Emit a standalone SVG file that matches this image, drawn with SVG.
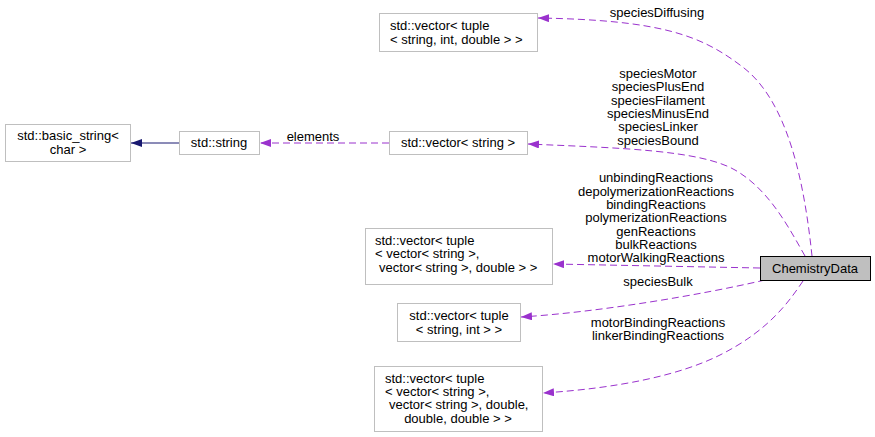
<svg xmlns="http://www.w3.org/2000/svg" width="875" height="437" viewBox="0 0 875 437">
<style>
text{font-family:"Liberation Sans",Arial,sans-serif;font-size:13px;fill:#000}
.box{fill:#fff;stroke:#bfbfbf;stroke-width:1}
.main{fill:#bfbfbf;stroke:#000;stroke-width:1}
.e{fill:none;stroke:#9a32cd;stroke-width:1;stroke-dasharray:7,4}
.s{fill:none;stroke:#191970;stroke-width:1}
.c{text-anchor:middle}
</style>
<defs>
<marker id="ap" viewBox="0 0 11 8" refX="11" refY="4" markerWidth="11" markerHeight="8" markerUnits="userSpaceOnUse" orient="auto">
<path d="M0,0 L11,4 L0,8 z" fill="#9a32cd"/>
</marker>
<marker id="an" viewBox="0 0 11 8" refX="11" refY="4" markerWidth="11" markerHeight="8" markerUnits="userSpaceOnUse" orient="auto">
<path d="M0,0 L11,4 L0,8 z" fill="#191970"/>
</marker>
</defs>
<g id="edges">
<path class="e" d="M812,256 C805,190 790,100 740,65 C700,35 660,20 538,18" marker-end="url(#ap)"/>
<path class="e" d="M805,256 C790,230 770,190 735,170 C700,150 620,148 528,144" marker-end="url(#ap)"/>
<path class="e" d="M389,143 L260,143" marker-end="url(#ap)"/>
<path class="s" d="M179,143 L131,143" marker-end="url(#an)"/>
<path class="e" d="M760,268 L553,264" marker-end="url(#ap)"/>
<path class="e" d="M765,280 C700,295 600,312 521,317" marker-end="url(#ap)"/>
<path class="e" d="M803,281 C790,300 770,330 720,355 C680,375 620,388 543,393" marker-end="url(#ap)"/>
<text class="c" x="657" y="17">speciesDiffusing</text>
<text class="c" x="658" y="78">speciesMotor</text>
<text class="c" x="658" y="91">speciesPlusEnd</text>
<text class="c" x="658" y="105">speciesFilament</text>
<text class="c" x="658" y="118">speciesMinusEnd</text>
<text class="c" x="658" y="131">speciesLinker</text>
<text class="c" x="658" y="145">speciesBound</text>
<text class="c" x="313" y="141">elements</text>
<text class="c" x="656" y="182">unbindingReactions</text>
<text class="c" x="656" y="196">depolymerizationReactions</text>
<text class="c" x="656" y="209">bindingReactions</text>
<text class="c" x="656" y="222">polymerizationReactions</text>
<text class="c" x="656" y="236">genReactions</text>
<text class="c" x="656" y="249">bulkReactions</text>
<text class="c" x="656" y="262">motorWalkingReactions</text>
<text class="c" x="658" y="286">speciesBulk</text>
<text class="c" x="658" y="327">motorBindingReactions</text>
<text class="c" x="658" y="340">linkerBindingReactions</text>
</g>
<g id="ChemistryData">
<rect class="main" x="760.5" y="256.5" width="110" height="24"/>
<text class="c" x="815" y="273">ChemistryData</text>
</g>
<g id="vecTupleStrIntDouble">
<rect class="box" x="379.5" y="13.5" width="158" height="38"/>
<text x="390" y="30">std::vector&lt; tuple</text>
<text x="390" y="44">&lt; string, int, double &gt; &gt;</text>
</g>
<g id="basicString">
<rect class="box" x="5.5" y="124.5" width="125" height="37"/>
<text class="c" x="68" y="140">std::basic_string&lt;</text>
<text class="c" x="68" y="154">char &gt;</text>
</g>
<g id="stdString">
<rect class="box" x="179.5" y="131.5" width="80" height="23"/>
<text class="c" x="219" y="147">std::string</text>
</g>
<g id="vecString">
<rect class="box" x="389.5" y="131.5" width="138" height="23"/>
<text class="c" x="458" y="147">std::vector&lt; string &gt;</text>
</g>
<g id="vecTupleVecVecDouble">
<rect class="box" x="365.5" y="228.5" width="187" height="56"/>
<text x="375" y="245">std::vector&lt; tuple</text>
<text x="375" y="258">&lt; vector&lt; string &gt;,</text>
<text x="379" y="272">vector&lt; string &gt;, double &gt; &gt;</text>
</g>
<g id="vecTupleStrInt">
<rect class="box" x="397.5" y="303.5" width="123" height="38"/>
<text class="c" x="459" y="320">std::vector&lt; tuple</text>
<text class="c" x="459" y="334">&lt; string, int &gt; &gt;</text>
</g>
<g id="vecTupleVecVecDDD">
<rect class="box" x="374.5" y="366.5" width="168" height="65"/>
<text x="385" y="383">std::vector&lt; tuple</text>
<text x="385" y="396">&lt; vector&lt; string &gt;,</text>
<text x="389" y="409">vector&lt; string &gt;, double,</text>
<text class="c" x="458" y="423">double, double &gt; &gt;</text>
</g>
</svg>
